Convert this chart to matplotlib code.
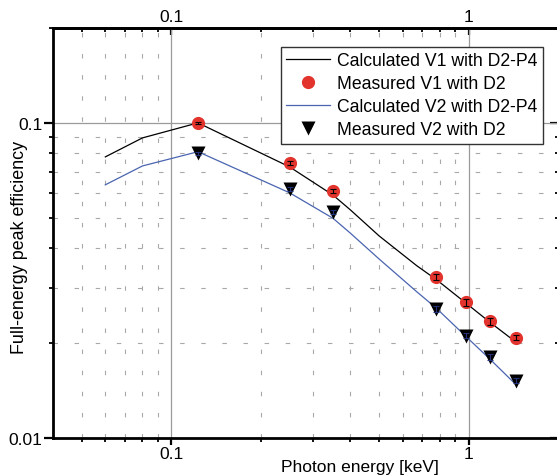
import matplotlib
matplotlib.use("Agg")
import matplotlib.pyplot as plt
from matplotlib.lines import Line2D
from matplotlib.ticker import FixedLocator, NullFormatter

plt.rcParams["font.family"] = ["Liberation Sans", "DejaVu Sans"]
plt.rcParams["font.size"] = 12.5

# calculated efficiency curves (D2-P4)
calc_energy_v1 = [0.06, 0.08, 0.123, 0.25, 0.35, 0.40, 0.50, 0.67, 0.78, 0.98, 1.18, 1.40]
calc_eff_v1 = [0.078, 0.0896, 0.100, 0.0725, 0.059, 0.0530, 0.0438, 0.0352, 0.0318, 0.0268, 0.0233, 0.0206]
calc_energy_v2 = [0.06, 0.08, 0.123, 0.25, 0.35, 0.40, 0.50, 0.67, 0.78, 0.98, 1.18, 1.42]
calc_eff_v2 = [0.0636, 0.073, 0.081, 0.060, 0.0498, 0.0447, 0.0370, 0.0291, 0.0258, 0.0210, 0.0178, 0.0150]

# measured efficiencies (D2)
meas_energy = [0.123, 0.25, 0.35, 0.78, 0.98, 1.18, 1.44]
meas_eff_v1 = [0.100, 0.0746, 0.0608, 0.0324, 0.0270, 0.0235, 0.0208]
meas_err_v1 = [0.0010, 0.0012, 0.0009, 0.0007, 0.0007, 0.0006, 0.0004]
meas_eff_v2 = [0.080, 0.0617, 0.052, 0.0257, 0.0211, 0.0181, 0.0152]
meas_err_v2 = [0.0008, 0.0010, 0.0008, 0.0005, 0.0004, 0.0004, 0.0003]

x_major = [0.1, 1]
x_major_labels = ["0.1", "1"]
y_major = [0.01, 0.1]
y_major_labels = ["0.01", "0.1"]

RED = "#e2332d"
BLUE = "#4a64b0"

fig = plt.figure(figsize=(5.57, 4.77), dpi=100)
ax = fig.add_axes([53 / 557, 38 / 477, 505 / 557, 410 / 477])
ax.set_xscale("log")
ax.set_yscale("log")
ax.set_xlim(0.04, 2.0)
ax.set_ylim(0.01, 0.2)

# lines
ax.plot(calc_energy_v1, calc_eff_v1, color="black", lw=0.9, zorder=3)
ax.plot(calc_energy_v2, calc_eff_v2, color=BLUE, lw=0.9, zorder=3)

# measured points
ax.plot(meas_energy, meas_eff_v1, "o", color=RED, ms=9.5, mec="none", zorder=4)
ax.plot(meas_energy, meas_eff_v2, "v", color="black", ms=9.5, mec="none", zorder=4)
ax.errorbar(meas_energy, meas_eff_v1, yerr=meas_err_v1, fmt="none", ecolor="black",
            elinewidth=0.8, capsize=2.5, capthick=0.8, zorder=5)
ax.errorbar(meas_energy, meas_eff_v2, yerr=meas_err_v2, fmt="none", ecolor="#23307a",
            elinewidth=0.8, capsize=2.5, capthick=0.8, zorder=5)

# ticks
x_minor = [k * 0.01 for k in range(5, 10)] + [k * 0.1 for k in range(2, 10)] + [2.0]
y_minor = [k * 0.01 for k in range(2, 10)] + [0.2]
ax.xaxis.set_major_locator(FixedLocator(x_major))
ax.xaxis.set_minor_locator(FixedLocator(x_minor))
ax.xaxis.set_minor_formatter(NullFormatter())
ax.set_xticks(x_major, labels=x_major_labels)
ax.yaxis.set_major_locator(FixedLocator(y_major))
ax.yaxis.set_minor_locator(FixedLocator(y_minor))
ax.yaxis.set_minor_formatter(NullFormatter())
ax.set_yticks(y_major, labels=y_major_labels)
ax.tick_params(axis="x", which="major", direction="out", length=5, width=1.6, pad=1)
ax.tick_params(axis="x", which="minor", direction="out", length=3, width=1.3)
ax.tick_params(axis="y", which="major", direction="out", length=6.5, width=1.6, pad=1)
ax.tick_params(axis="y", which="minor", direction="out", length=3, width=1.3)
for s in ax.spines.values():
    s.set_linewidth(2)

# top / right axes with inward ticks
top = ax.secondary_xaxis("top")
top.set_xticks(x_major, labels=x_major_labels)
top.xaxis.set_minor_locator(FixedLocator(x_minor))
top.xaxis.set_minor_formatter(NullFormatter())
top.tick_params(which="major", direction="in", length=5, width=1.6, pad=3)
top.tick_params(which="minor", direction="in", length=3, width=1.3)
top.spines["top"].set_linewidth(2)

right = ax.secondary_yaxis("right")
right.set_yticks(y_major, labels=["", ""])
right.yaxis.set_minor_locator(FixedLocator(y_minor))
right.yaxis.set_minor_formatter(NullFormatter())
right.tick_params(which="major", direction="in", length=6, width=1.6)
right.tick_params(which="minor", direction="in", length=2, width=1.3)
right.spines["right"].set_linewidth(2)

# grid
ax.grid(which="major", color="#9a9a9a", lw=0.9, zorder=0)
ax.grid(which="minor", color="#a8a8a8", lw=0.8, ls=(0, (4, 15)), zorder=0)

ax.set_xlabel("Photon energy [keV]")
ax.xaxis.set_label_coords(0.608, -0.051)
ax.set_ylabel("Full-energy peak efficiency", fontsize=12.9)
ax.yaxis.set_label_coords(-0.049, 0.468)

handles = [
    Line2D([], [], color="black", lw=0.9),
    Line2D([], [], ls="none", marker="o", color=RED, ms=9.5, mec="none"),
    Line2D([], [], color=BLUE, lw=0.9),
    Line2D([], [], ls="none", marker="v", color="black", ms=9.5, mec="none"),
]
labels = ["Calculated V1 with D2-P4", "Measured V1 with D2",
          "Calculated V2 with D2-P4", "Measured V2 with D2"]
leg = ax.legend(handles, labels, loc="upper right", bbox_to_anchor=(0.970, 0.9537),
                borderaxespad=0, frameon=True, fancybox=False, framealpha=1,
                edgecolor="#333333", handlelength=2.5, handletextpad=0.4,
                labelspacing=0.34, borderpad=0.3, fontsize=12.7)
leg.get_frame().set_linewidth(1.0)
leg.set_zorder(6)

fig.savefig("out.png", dpi=100)
